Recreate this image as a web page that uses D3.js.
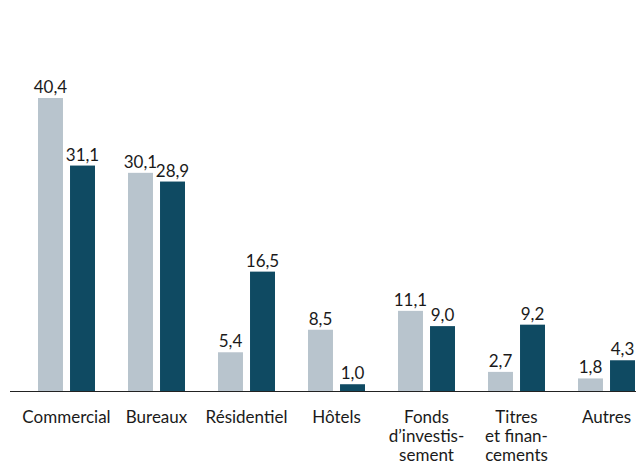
<!DOCTYPE html>
<html>
<head>
<meta charset="utf-8">
<script src="https://cdn.jsdelivr.net/npm/d3@7"></script>
<style>
  body { margin: 0; background: #fff; }
  svg { display: block; }
  text { font-family: Lato, "Noto Sans", sans-serif; fill: #1a1a1a; }
</style>
</head>
<body>
<div id="chart"></div>
<script>
/* Daten */
var categories = [["Commercial"], ["Bureaux"], ["Résidentiel"], ["Hôtels"],
                  ["Fonds", "d\u2019investis-", "sement"], ["Titres", "et finan-", "cements"], ["Autres"]];
var serieA = [40.4, 30.1, 5.4, 8.5, 11.1, 2.7, 1.8];
var serieB = [31.1, 28.9, 16.5, 1.0, 9.0, 9.2, 4.3];
var colors = ["#b8c4cd", "#0f4a62"];

var width = 636, height = 463;
var baseY = 391.5;
var fmt = function(v) { return d3.format(".1f")(v).replace(".", ","); };

var svg = d3.select("#chart").append("svg").attr("width", width).attr("height", height);

/* Skalen */
var x = d3.scaleBand().domain(d3.range(categories.length)).range([21, 651]).paddingInner(0).paddingOuter(0);
var xs = d3.scaleBand().domain([0, 1]).range([17, 74]).paddingInner(0.22);
var y = d3.scaleLinear().domain([0, 40.4]).range([baseY, 98]);

var groups = svg.append("g").selectAll("g").data(categories).enter().append("g")
  .attr("transform", function(d, i) { return "translate(" + x(i) + ",0)"; });

[serieA, serieB].forEach(function(serie, s) {
  groups.append("rect")
    .attr("x", xs(s))
    .attr("width", xs.bandwidth())
    .attr("y", function(d, i) { return y(serie[i]); })
    .attr("height", function(d, i) { return baseY - y(serie[i]); })
    .attr("fill", colors[s]);
  groups.append("text")
    .attr("x", xs(s) + xs.bandwidth() / 2)
    .attr("y", function(d, i) { return y(serie[i]) - 5; })
    .attr("text-anchor", "middle")
    .attr("font-size", "17px")
    .text(function(d, i) { return fmt(serie[i]); });
});

/* Achse */
svg.append("line").attr("x1", 10).attr("x2", width).attr("y1", baseY).attr("y2", baseY)
  .attr("stroke", "#222").attr("stroke-width", 1);

var lab = groups.append("text")
  .attr("text-anchor", "middle")
  .attr("font-size", "17px");
lab.selectAll("tspan").data(function(d) { return d; }).enter().append("tspan")
  .attr("x", 45.5)
  .attr("y", function(d, j) { return 423 + j * 19; })
  .text(function(d) { return d; });
</script>
</body>
</html>
